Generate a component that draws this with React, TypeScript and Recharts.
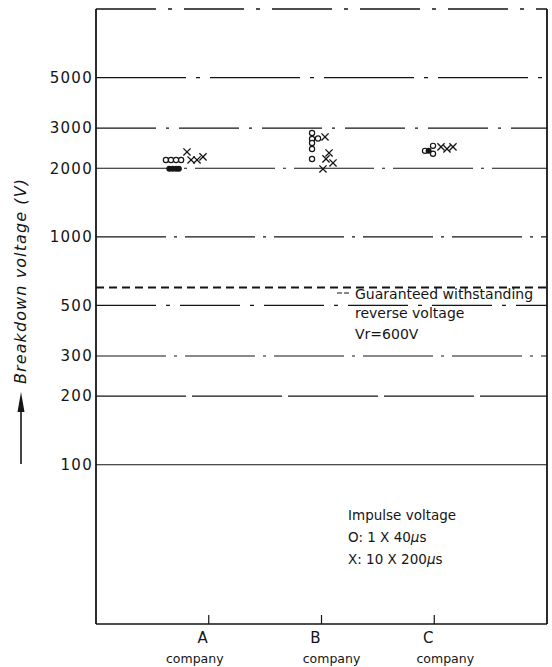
import React from 'react';
import { ScatterChart, Scatter, XAxis, YAxis, ReferenceLine, Customized } from 'recharts';

// ---- data ----
const categories = ['A', 'B', 'C'];
const categoryPos = [1, 2, 3];
const yTicks = [100, 200, 300, 500, 1000, 2000, 3000, 5000];
const yDomain = [20, 10000];
const guaranteedVoltage = 600;

// impulse 1 x 40us (open circles)
const circlePos = [0.62, 0.665, 0.71, 0.755, 1.916, 1.916, 1.969, 1.916, 1.916, 1.916, 2.918, 2.989, 2.989];
const circleVolt = [2175, 2175, 2175, 2175, 2857, 2690, 2700, 2582, 2430, 2198, 2385, 2509, 2316];
// impulse 1 x 40us (dense, filled-looking circles)
const denseCirclePos = [0.65, 0.68, 0.71, 0.735, 2.95];
const denseCircleVolt = [1990, 1990, 1990, 1990, 2385];
// impulse 10 x 200us (crosses)
const crossPos = [0.807, 0.843, 0.896, 0.949, 2.031, 2.067, 2.04, 2.102, 2.013, 3.06, 3.113, 3.166];
const crossVolt = [2358, 2175, 2175, 2243, 2744, 2335, 2198, 2110, 1986, 2484, 2434, 2484];

// ---- styles ----
const INK = '#151515';
const FONT = '"DejaVu Sans", sans-serif';
const gridDash = ['', '90 6', '70 8 3 8', '60 10 4 10', '70 8 3 8', '80 8 3 8', '60 10 3 10', '90 10 4 10'];
const companyShift = [-14, 10, 11];

const circles = circlePos.map((x, i) => ({ x, v: circleVolt[i] }));
const denseCircles = denseCirclePos.map((x, i) => ({ x, v: denseCircleVolt[i] }));
const crosses = crossPos.map((x, i) => ({ x, v: crossVolt[i] }));

const OpenCircle = (p: any) => (
  <circle cx={p.cx} cy={p.cy} r={2.6} fill="#fff" stroke={INK} strokeWidth={1.2} />
);
const DenseCircle = (p: any) => (
  <circle cx={p.cx} cy={p.cy} r={2.4} fill={INK} stroke={INK} strokeWidth={1.2} />
);
const Cross = (p: any) => {
  const s = 3.6;
  return (
    <g stroke={INK} strokeWidth={1.3}>
      <line x1={p.cx - s} y1={p.cy - s} x2={p.cx + s} y2={p.cy + s} />
      <line x1={p.cx - s} y1={p.cy + s} x2={p.cx + s} y2={p.cy - s} />
    </g>
  );
};

const XTick = (props: any) => {
  const { x, y, payload } = props;
  const idx = categoryPos.indexOf(payload.value);
  return (
    <g>
      <line x1={x} y1={y - 9} x2={x} y2={y} stroke={INK} strokeWidth={1.2} />
      <text x={x - 6} y={y + 19} textAnchor="middle" fontFamily={FONT} fontSize={15} fill={INK}>
        {categories[idx]}
      </text>
      <text x={x + companyShift[idx]} y={y + 39} textAnchor="middle" fontFamily={FONT} fontSize={12.5} fill={INK}>
        company
      </text>
    </g>
  );
};

const Decorations = () => (
  <g fill={INK} fontFamily={FONT}>
    <text x={355} y={299} fontSize={14}>Guaranteed withstanding</text>
    <text x={355} y={318} fontSize={14}>reverse voltage</text>
    <text x={355} y={339} fontSize={14}>Vr=600V</text>
    <line x1={337} y1={293} x2={351} y2={293} stroke={INK} strokeWidth={1.2} strokeDasharray="5 2" />
    <text x={348} y={520} fontSize={13.5}>Impulse voltage</text>
    <text x={348} y={542} fontSize={13.5}>
      O: 1 X 40<tspan fontStyle="italic">μ</tspan>s
    </text>
    <text x={348} y={564} fontSize={13.5}>
      X: 10 X 200<tspan fontStyle="italic">μ</tspan>s
    </text>
    <text
      transform="translate(26,281) rotate(-90)"
      textAnchor="middle"
      fontSize={16}
      fontStyle="italic"
      letterSpacing={1.1}
    >
      Breakdown voltage (V)
    </text>
    <line x1={21} y1={464} x2={21} y2={400} stroke={INK} strokeWidth={1.6} />
    <path d="M21,392 L17.5,412 L24.5,412 Z" fill={INK} />
  </g>
);

export default function App() {
  return (
    <div style={{ position: 'absolute', left: 0, top: 0, width: 552, height: 667, background: '#fff' }}>
      <ScatterChart width={552} height={667} margin={{ top: 9, right: 5, left: 0, bottom: 0 }}>
        <XAxis
          type="number"
          dataKey="x"
          domain={[0, 4]}
          ticks={categoryPos}
          interval={0}
          height={43}
          tickSize={0}
          tickMargin={0}
          tickLine={false}
          axisLine={{ stroke: INK, strokeWidth: 1.6 }}
          tick={<XTick />}
          allowDataOverflow
        />
        <YAxis
          type="number"
          dataKey="v"
          scale="log"
          domain={yDomain}
          ticks={yTicks}
          interval={0}
          allowDataOverflow
          width={96}
          tickSize={0}
          tickMargin={3}
          tickLine={false}
          axisLine={{ stroke: INK, strokeWidth: 1.8 }}
          tick={{ fontFamily: FONT, fontSize: 15, fill: INK, letterSpacing: 1.3 }}
          tickFormatter={(v: number) => String(v)}
        />
        {yTicks.map((t, i) => (
          <ReferenceLine
            key={t}
            y={t}
            stroke={INK}
            strokeWidth={1.2}
            strokeDasharray={gridDash[i] || undefined}
          />
        ))}
        <ReferenceLine y={yDomain[1]} stroke={INK} strokeWidth={1.4} strokeDasharray="60 12 4 12" />
        <ReferenceLine x={4} stroke={INK} strokeWidth={1.8} />
        <ReferenceLine y={guaranteedVoltage} stroke={INK} strokeWidth={2} strokeDasharray="8 5" />
        <Scatter data={circles} shape={OpenCircle} isAnimationActive={false} />
        <Scatter data={denseCircles} shape={DenseCircle} isAnimationActive={false} />
        <Scatter data={crosses} shape={Cross} isAnimationActive={false} />
        <Customized component={Decorations} />
      </ScatterChart>
    </div>
  );
}
